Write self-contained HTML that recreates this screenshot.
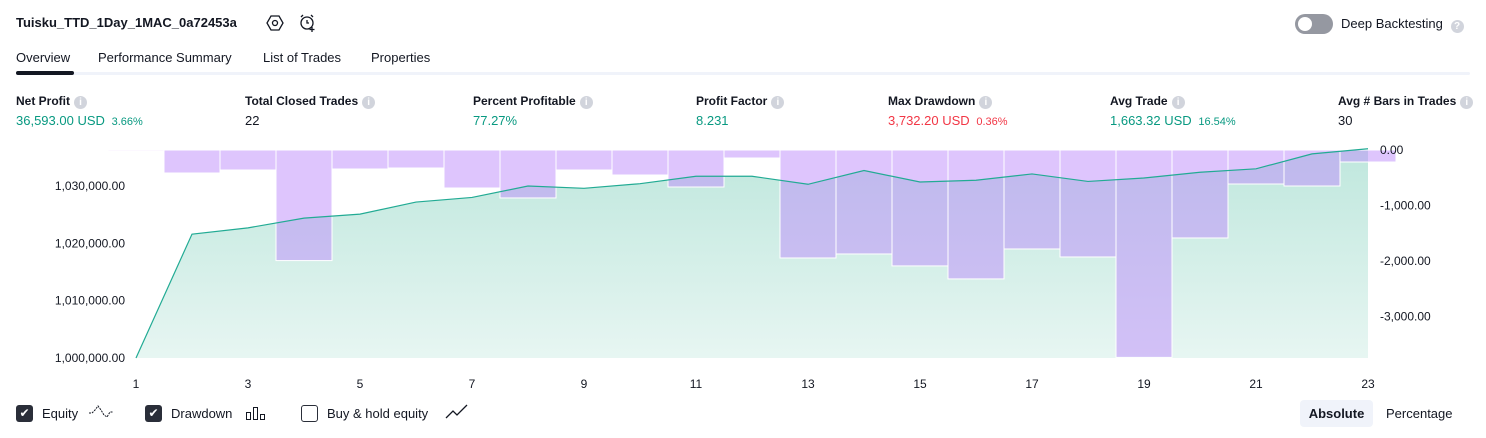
<!DOCTYPE html>
<html><head><meta charset="utf-8"><style>
body{margin:0;width:1486px;height:438px;background:#fff;font-family:"Liberation Sans",sans-serif;color:#131722;position:relative;overflow:hidden}
.a{position:absolute;white-space:nowrap}
.lbl{font-size:12px;font-weight:bold;color:#131722;line-height:14px}
.val{font-size:13px;line-height:15px}
.g{color:#089981}.r{color:#f23645}
.small{font-size:11px}
.info{display:inline-block;width:13px;height:13px;border-radius:50%;background:#d1d4dc;color:#fff;font-size:10px;text-align:center;line-height:13px;vertical-align:0px;margin-left:4px;font-weight:bold}
.cb{position:absolute;width:17px;height:17px;border-radius:3px;background:#2a2e39;color:#fff;font-size:12px;text-align:center;line-height:17px}
</style></head><body>
<div class="a" style="left:16px;top:15px;font-size:13px;font-weight:bold">Tuisku_TTD_1Day_1MAC_0a72453a</div>
<svg class="a" style="left:266px;top:14px" width="18" height="18"><polygon points="5,2 13,2 17,9 13,16 5,16 1,9" fill="none" stroke="#131722" stroke-width="1.3"/><circle cx="9" cy="9" r="2.5" fill="none" stroke="#131722" stroke-width="1.3"/></svg>
<svg class="a" style="left:298px;top:13px" width="20" height="20"><circle cx="9" cy="10" r="6" fill="none" stroke="#131722" stroke-width="1.3"/><path d="M9 7v3h2M14 14v5M11.5 16.5h5M3 4l2-2M15 4l-2-2" stroke="#131722" stroke-width="1.3" fill="none"/></svg>
<div class="a" style="left:1295px;top:14px;width:38px;height:20px;border-radius:10px;background:#9598a1"><div style="position:absolute;left:3px;top:3px;width:14px;height:14px;border-radius:50%;background:#fff"></div></div>
<div class="a" style="left:1341px;top:16px;font-size:13px">Deep Backtesting <span class="info" style="vertical-align:-1px">?</span></div>
<div class="a" style="left:16px;top:50px;font-size:13px">Overview</div>
<div class="a" style="left:98px;top:50px;font-size:13px">Performance Summary</div>
<div class="a" style="left:263px;top:50px;font-size:13px">List of Trades</div>
<div class="a" style="left:371px;top:50px;font-size:13px">Properties</div>
<div class="a" style="left:16px;top:72px;width:1454px;height:3px;background:#f0f3fa;border-radius:2px"></div>
<div class="a" style="left:16px;top:71px;width:58px;height:4px;background:#131722;border-radius:2px"></div>

<div class="a" style="left:16px;top:94px"><div class="lbl">Net Profit<span class="info">i</span></div><div class="val g" style="margin-top:4px">36,593.00 USD <span class="small">&nbsp;3.66%</span></div></div>
<div class="a" style="left:245px;top:94px"><div class="lbl">Total Closed Trades<span class="info">i</span></div><div class="val" style="margin-top:4px">22</div></div>
<div class="a" style="left:473px;top:94px"><div class="lbl">Percent Profitable<span class="info">i</span></div><div class="val g" style="margin-top:4px">77.27%</div></div>
<div class="a" style="left:696px;top:94px"><div class="lbl">Profit Factor<span class="info">i</span></div><div class="val g" style="margin-top:4px">8.231</div></div>
<div class="a" style="left:888px;top:94px"><div class="lbl">Max Drawdown<span class="info">i</span></div><div class="val r" style="margin-top:4px">3,732.20 USD <span class="small">&nbsp;0.36%</span></div></div>
<div class="a" style="left:1110px;top:94px"><div class="lbl">Avg Trade<span class="info">i</span></div><div class="val g" style="margin-top:4px">1,663.32 USD <span class="small">&nbsp;16.54%</span></div></div>
<div class="a" style="left:1338px;top:94px"><div class="lbl">Avg # Bars in Trades<span class="info">i</span></div><div class="val" style="margin-top:4px">30</div></div>

<svg id="chart" class="a" style="left:0;top:140px" width="1486" height="255"></svg>

<div class="cb" style="left:16px;top:405px">✔</div>
<div class="a" style="left:42px;top:406px;font-size:13px">Equity</div>
<svg class="a" style="left:88px;top:404px" width="26" height="16"><path d="M1 9h3l3-3 3-4 3 4 3 5 3 2 3-5h3" fill="none" stroke="#131722" stroke-width="1" stroke-dasharray="2 1"/></svg>
<div class="cb" style="left:145px;top:405px">✔</div>
<div class="a" style="left:171px;top:406px;font-size:13px">Drawdown</div>
<svg class="a" style="left:245px;top:405px" width="22" height="16"><rect x="1.5" y="7.5" width="4" height="7" fill="none" stroke="#131722"/><rect x="8.5" y="2.5" width="4" height="12" fill="none" stroke="#131722"/><rect x="15.5" y="9.5" width="4" height="5" fill="none" stroke="#131722"/></svg>
<div class="a" style="left:301px;top:405px;width:15px;height:15px;border:1px solid #2a2e39;border-radius:3px"></div>
<div class="a" style="left:327px;top:406px;font-size:13px">Buy &amp; hold equity</div>
<svg class="a" style="left:445px;top:404px" width="24" height="16"><path d="M1 14l7-7 4 4 10-10" fill="none" stroke="#131722" stroke-width="1.3"/></svg>
<div class="a" style="left:1300px;top:400px;width:73px;height:27px;background:#f0f3fa;border-radius:4px;font-size:13px;font-weight:bold;text-align:center;line-height:27px">Absolute</div>
<div class="a" style="left:1386px;top:406px;font-size:13px">Percentage</div>

<script>
const trades=[1,2,3,4,5,6,7,8,9,10,11,12,13,14,15,16,17,18,19,20,21,22,23];
const equity=[1000000,1021600,1022700,1024400,1025100,1027200,1028000,1030000,1029600,1030400,1031700,1031700,1030300,1032700,1030700,1031000,1032100,1030800,1031400,1032400,1033000,1035600,1036500];
const drawdown=[-20,-414,-360,-1990,-342,-324,-684,-863,-360,-450,-666,-144,-1943,-1871,-2086,-2320,-1781,-1925,-3732,-1583,-612,-648,-216];
const xTicks=[1,3,5,7,9,11,13,15,17,19,21,23];
const eqTicks=[1000000,1010000,1020000,1030000];
const ddTicks=[0,-1000,-2000,-3000];
const NS='http://www.w3.org/2000/svg';
const svg=document.getElementById('chart');
const xS=t=>136+(t-1)*56;
const yE=v=>218-(v-1000000)*172/30000;
const yD=v=>10-v*0.05557;
function mk(tag,attrs,parent){const e=document.createElementNS(NS,tag);for(const k in attrs)e.setAttribute(k,attrs[k]);(parent||svg).appendChild(e);return e;}
const defs=mk('defs',{});
const lg=mk('linearGradient',{id:'eg',x1:0,y1:0,x2:0,y2:1},defs);
mk('stop',{offset:'0','stop-color':'#bfe7dd'},lg);
mk('stop',{offset:'1','stop-color':'#e7f6f2'},lg);
let d='M'+xS(trades[0])+' '+yE(1000000);
trades.forEach((t,i)=>{d+=' L'+xS(t)+' '+yE(equity[i]);});
d+=' L'+xS(trades[trades.length-1])+' '+yE(1000000)+' Z';
const area=mk('path',{d:d,fill:'url(#eg)'});


trades.forEach((t,i)=>{
  const y0=yD(0),y1=yD(drawdown[i]);
  const b=mk('rect',{x:xS(t)-28,y:y0,width:56,height:Math.max(1,y1-y0),fill:'rgba(190,140,252,0.5)',stroke:'#fff','stroke-width':1});
  
  
});
let ld='';
trades.forEach((t,i)=>{ld+=(i?' L':'M')+xS(t)+' '+yE(equity[i]);});
const line=mk('path',{d:ld,fill:'none',stroke:'#22ab94','stroke-width':1.2});


function fmt(v){return v.toLocaleString('en-US',{minimumFractionDigits:2,maximumFractionDigits:2});}
eqTicks.forEach(v=>{const t=mk('text',{x:125,y:yE(v)+4,'text-anchor':'end','font-size':12,fill:'#131722'});t.textContent=fmt(v);

});
ddTicks.forEach(v=>{const t=mk('text',{x:1380,y:yD(v)+4,'font-size':12,fill:'#131722'});t.textContent=fmt(v);

});
xTicks.forEach(v=>{const t=mk('text',{x:xS(v),y:248,'text-anchor':'middle','font-size':12,fill:'#131722'});t.textContent=v;

});
</script>
</body></html>
